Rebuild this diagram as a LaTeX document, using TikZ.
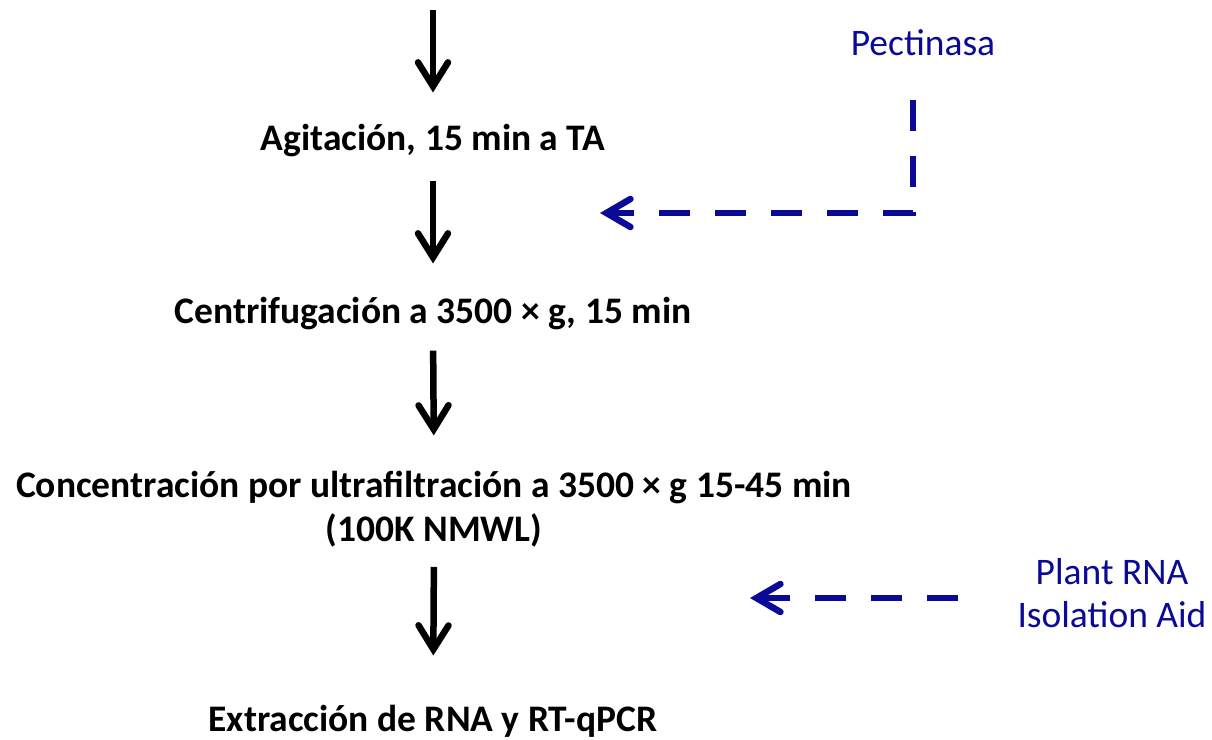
\documentclass[tikz,border=0pt]{standalone}
\usepackage{fontspec}
\setmainfont{Carlito}
\usepackage{tikz}
\usetikzlibrary{arrows.meta}
\definecolor{myblue}{RGB}{10,10,150}

\begin{document}
\begin{tikzpicture}[x=1pt, y=-1pt, font=\fontsize{37.5}{43}\selectfont,
	paso/.style={font=\fontsize{37.5}{44}\selectfont\bfseries, inner sep=0pt, anchor=base, align=center},
	extra/.style={myblue, inner sep=0pt, anchor=base, align=center},
	flecha/.style={line width=6.5pt, -{Straight Barb[length=24pt, width=30pt, line cap=round]}},
	discont/.style={myblue, line width=6.5pt, dash pattern=on 31pt off 25pt, -{Straight Barb[length=24pt, width=28pt, line cap=round]}}]
				% Bildbereich
				\useasboundingbox (0,0) rectangle (1212,739);
				% Pasos
				\coordinate (inicio) at (433,10);
				\node[paso] (agit) at (433,150) {Agitación, 15 min a TA};
				\node[paso] (centri) at (433,323) {Centrifugación a 3500 × g, 15 min};
				\node[paso] (concent) at (434,541) {Concentración por ultrafiltración a 3500 × g 15-45 min\\(100K NMWL)};
				\node[paso] (extrac) at (433,731) {Extracción de RNA y RT-qPCR};
				% Flechas
				\draw[flecha, shorten >=31pt] (inicio) -- (agit.north);
				\draw[flecha, shorten <=24pt, shorten >=33pt] (agit.south) -- (centri.north);
				\draw[flecha, shorten <=21pt, shorten >=35pt] (centri.south) -- (concent.north);
				\draw[flecha, shorten <=20pt, shorten >=49pt] (concent.south) -- (extrac.north);
				% Reactivos
				\node[extra] (pect) at (923,55) {Pectinasa};
				\node[extra] (plant) at (1112,627) {Plant RNA\\Isolation Aid};
				\coordinate (entrada1) at (600,213);
				\coordinate (entrada2) at (750,598);
				\draw[discont] ([xshift=-10pt, yshift=-45pt]pect.south) |- (entrada1);
				\draw[discont, shorten <=59pt] (plant.west |- entrada2) -- (entrada2);
\end{tikzpicture}
\end{document}
